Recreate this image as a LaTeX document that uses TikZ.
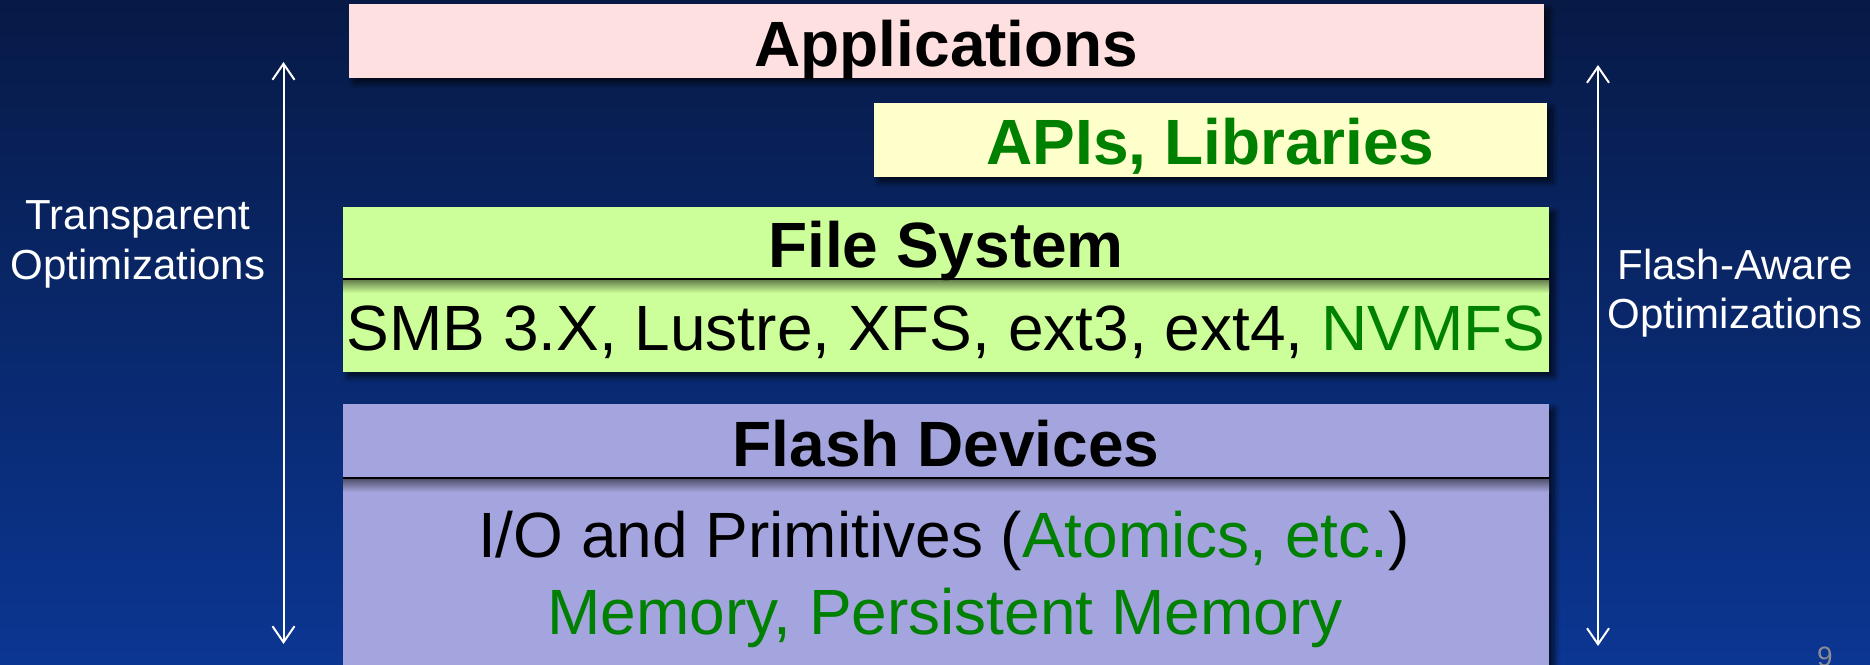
\documentclass[tikz,border=0pt]{standalone}
\usepackage{fontspec}
\setmainfont{Liberation Sans}
\usetikzlibrary{arrows.meta,shadows.blur}

\definecolor{bgtop}{RGB}{7,26,70}
\definecolor{bgmid}{RGB}{12,40,108}
\definecolor{bgbot}{RGB}{11,54,146}
\definecolor{appfill}{RGB}{255,224,224}
\definecolor{apifill}{RGB}{255,255,204}
\definecolor{fsfill}{RGB}{204,255,153}
\definecolor{flashfill}{RGB}{164,164,222}
\definecolor{txtgreen}{RGB}{0,128,0}
\definecolor{pagegray}{RGB}{140,140,150}

\begin{document}
\begin{tikzpicture}[x=1pt,y=-1pt,
  layerbox/.style={rectangle, draw=none, inner sep=0pt, outer sep=0pt,
    blur shadow={shadow xshift=5pt, shadow yshift=-5pt,
      shadow blur radius=6pt, shadow blur steps=10, shadow opacity=75}},
  boldtxt/.style={inner sep=0pt, anchor=base,
    font=\fontsize{64}{77}\selectfont\bfseries},
  plaintxt/.style={inner sep=0pt, anchor=base,
    font=\fontsize{64}{77}\selectfont},
  sidetxt/.style={inner sep=0pt, anchor=base, text=white,
    font=\fontsize{42}{50}\selectfont},
  bothway/.style={draw=white, line width=2pt,
    {Straight Barb[length=16pt,width=22pt,line width=2pt]}-{Straight Barb[length=16pt,width=22pt,line width=2pt]}},
  divider/.style={draw=black, line width=2pt}]

% page and background
\useasboundingbox (0,0) rectangle (1870,664);
\shade[top color=bgtop, middle color=bgmid, bottom color=bgbot] (0,0) rectangle (1870,664);

% layer boxes
\node[layerbox, fill=appfill, minimum width=1195pt, minimum height=73.7pt] (app) at (946.5,40.85) {};
\node[layerbox, fill=apifill, minimum width=673pt, minimum height=73.7pt] (api) at (1210.5,139.85) {};
\node[layerbox, fill=fsfill, minimum width=1206pt, minimum height=164.5pt] (fs) at (946,289.25) {};
\node[layerbox, fill=flashfill, minimum width=1206pt, minimum height=280pt] (flash) at (946,544) {};

% dividers inside the two split boxes, with their soft shadow
\shade[top color=fsfill!50!black, bottom color=fsfill] (343,280) rectangle (1549,293);
\shade[top color=flashfill!50!black, bottom color=flashfill] (343,479) rectangle (1549,492);
\coordinate (fsdiv) at (946,279);
\coordinate (flashdiv) at (946,478);
\draw[divider] (fs.west |- fsdiv) -- (fs.east |- fsdiv);
\draw[divider] (flash.west |- flashdiv) -- (flash.east |- flashdiv);

% box texts
\node[boldtxt] (apptxt) at (946.5,66) {Applications};
\node[boldtxt, text=txtgreen] (apitxt) at (1210.5,164) {APIs, Libraries};
\node[boldtxt] (fstxt) at (946,267) {File System};
\node[plaintxt] (fslist) at (946,350) {SMB 3.X, Lustre, XFS, ext3, ext4, \textcolor{txtgreen}{NVMFS}};
\node[boldtxt] (flashtxt) at (946,466) {Flash Devices};
\node[plaintxt] (iotxt) at (944,557) {I/O and Primitives (\textcolor{txtgreen}{Atomics, etc.})};
\node[plaintxt, text=txtgreen] (memtxt) at (945,634) {Memory, Persistent Memory};

% side arrows and their labels
\coordinate (ltop) at (283.5,62);
\coordinate (lbot) at (283.5,644);
\draw[bothway] (ltop) -- (lbot);
\coordinate (rtop) at (1598,65);
\coordinate (rbot) at (1598,646);
\draw[bothway] (rtop) -- (rbot);

\node[sidetxt] (ltxt1) at (138,229) {Transparent};
\node[sidetxt] (ltxt2) at (138,279) {Optimizations};
\node[sidetxt] (rtxt1) at (1735,279) {Flash-Aware};
\node[sidetxt] (rtxt2) at (1735,328) {Optimizations};

% page number
\node[inner sep=0pt, anchor=base, text=pagegray, font=\fontsize{28}{30}\selectfont] (pagenum) at (1825,666) {9};
\end{tikzpicture}
\end{document}
